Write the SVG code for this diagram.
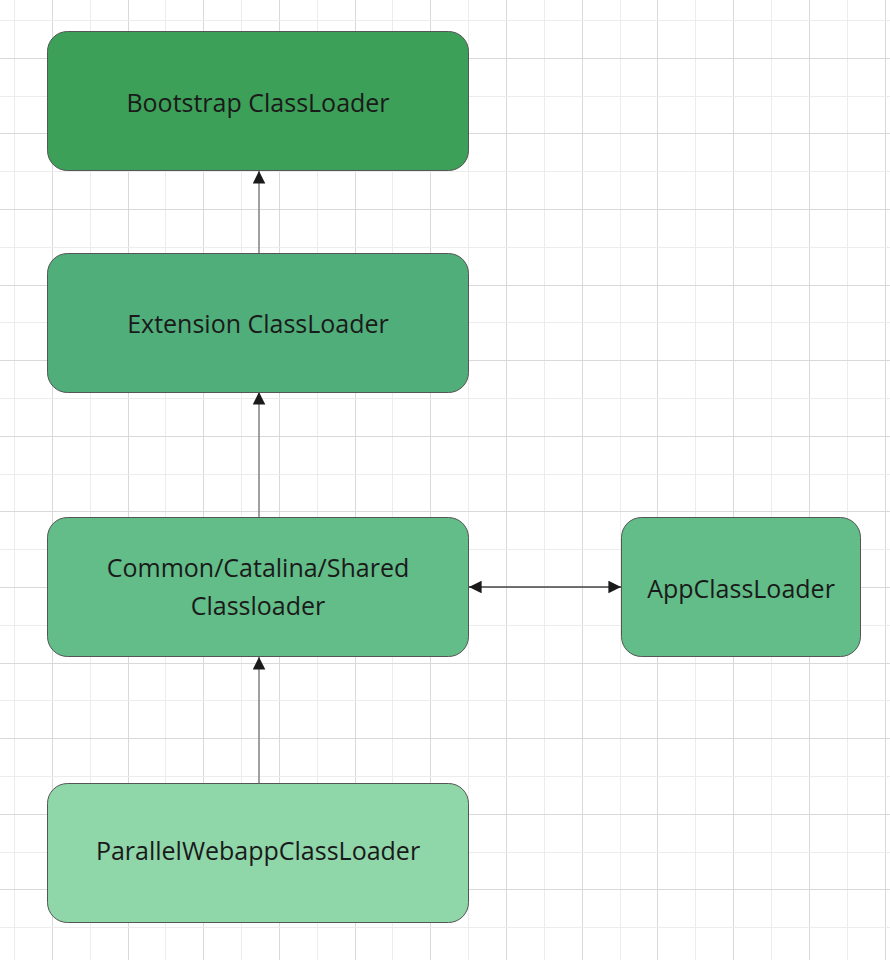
<svg xmlns="http://www.w3.org/2000/svg" width="890" height="960" viewBox="0 0 890 960">
<style>
.bg{fill:#ffffff}
.gl{stroke:#ececec;stroke-width:1;fill:none}
.gd{stroke:#d9d9d9;stroke-width:1;fill:none}
.box{stroke:#555555;stroke-width:1}
.lbl{font-family:"Open Sans","Noto Sans","Liberation Sans",sans-serif;font-size:25px;fill:#1a1a1a;text-anchor:middle}
.conn{stroke:#808080;stroke-width:1.5;fill:none}
.conn2{stroke:#444444;stroke-width:1.5;fill:none}
</style>
<defs>
<marker id="ah" markerUnits="userSpaceOnUse" markerWidth="13" markerHeight="13" refX="12.6" refY="6.3" orient="auto-start-reverse" viewBox="0 0 13 13">
<path d="M0,0 L12.6,6.3 L0,12.6 z" fill="#1a1a1a"/>
</marker>
</defs>
<rect class="bg" x="0" y="0" width="890" height="960"/>
<g id="grid">
<path class="gl" d="M14.5,0V960M90.5,0V960M165.5,0V960M241.5,0V960M317.5,0V960M392.5,0V960M468.5,0V960M544.5,0V960M620.5,0V960M695.5,0V960M771.5,0V960M847.5,0V960"/>
<path class="gd" d="M52.5,0V960M128.5,0V960M203.5,0V960M279.5,0V960M355.5,0V960M430.5,0V960M506.5,0V960M582.5,0V960M657.5,0V960M733.5,0V960M809.5,0V960M885.5,0V960"/>
<path class="gl" d="M0,20.5H890M0,96.5H890M0,171.5H890M0,247.5H890M0,322.5H890M0,398.5H890M0,474.5H890M0,549.5H890M0,625.5H890M0,700.5H890M0,776.5H890M0,852.5H890M0,927.5H890"/>
<path class="gd" d="M0,58.5H890M0,133.5H890M0,209.5H890M0,285.5H890M0,360.5H890M0,436.5H890M0,511.5H890M0,587.5H890M0,663.5H890M0,738.5H890M0,814.5H890M0,889.5H890"/>
</g>
<g id="connectors">
<line class="conn" x1="259" y1="253" x2="259" y2="171" marker-end="url(#ah)"/>
<line class="conn" x1="259" y1="517" x2="259" y2="392" marker-end="url(#ah)"/>
<line class="conn" x1="259" y1="783" x2="259" y2="657" marker-end="url(#ah)"/>
<line class="conn2" x1="469" y1="587" x2="621" y2="587" marker-start="url(#ah)" marker-end="url(#ah)"/>
</g>
<g id="bootstrap">
<rect class="box" x="47.5" y="31.5" width="421" height="139" rx="20" fill="#3ca058"/>
<text class="lbl" x="258" y="112">Bootstrap ClassLoader</text>
</g>
<g id="extension">
<rect class="box" x="47.5" y="253.5" width="421" height="139" rx="20" fill="#50ae7a"/>
<text class="lbl" x="258" y="333">Extension ClassLoader</text>
</g>
<g id="common">
<rect class="box" x="47.5" y="517.5" width="421" height="139" rx="20" fill="#62bd88"/>
<text class="lbl" x="258" y="577">Common/Catalina/Shared</text>
<text class="lbl" x="258" y="615">Classloader</text>
</g>
<g id="app">
<rect class="box" x="621.5" y="517.5" width="239" height="139" rx="20" fill="#62bd88"/>
<text class="lbl" x="741" y="598">AppClassLoader</text>
</g>
<g id="parallel">
<rect class="box" x="47.5" y="783.5" width="421" height="139" rx="20" fill="#8fd6a9"/>
<text class="lbl" x="258" y="860">ParallelWebappClassLoader</text>
</g>
</svg>
